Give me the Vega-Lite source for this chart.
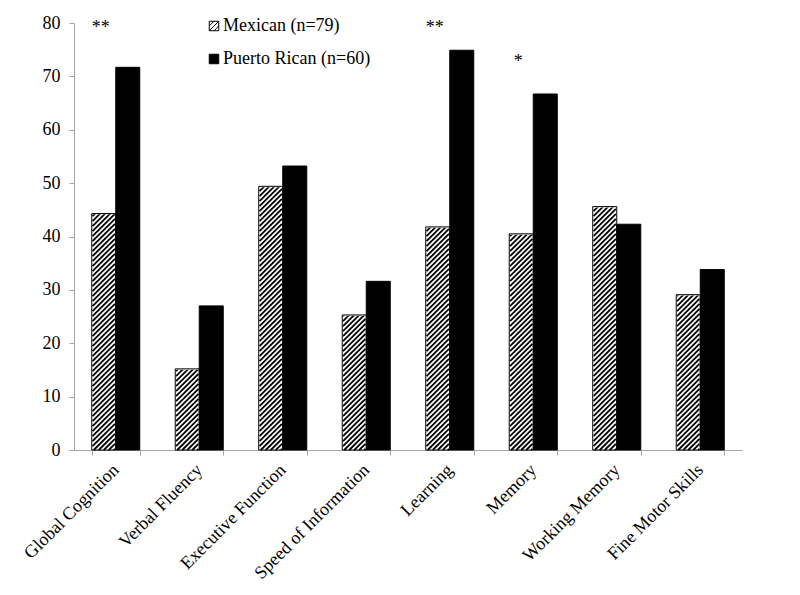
{
  "$schema": "https://vega.github.io/schema/vega-lite/v6.json",
  "width": 668,
  "height": 427,
  "autosize": {"type": "none"},
  "padding": {"left": 74, "top": 23, "right": 58, "bottom": 145},
  "background": "white",
  "config": {
    "font": "Liberation Serif",
    "view": {"stroke": null},
    "axis": {"labelFont": "Liberation Serif", "labelFontSize": 18, "labelColor": "black", "domainColor": "#a6a6a6", "tickColor": "#a6a6a6", "grid": false, "title": null},
    "axisX": {"labelAngle": -45, "labelAlign": "right", "labelBaseline": "middle", "labelPadding": 12, "tickSize": 5, "tickBand": "extent"},
    "axisY": {"tickSize": 5, "labelPadding": 9, "tickCount": 8}
  },
  "datasets": {
    "bars": [
      {"category": "Global Cognition", "group": "Mexican (n=79)", "value": 44.3},
      {"category": "Global Cognition", "group": "Puerto Rican (n=60)", "value": 71.7},
      {"category": "Verbal Fluency", "group": "Mexican (n=79)", "value": 15.2},
      {"category": "Verbal Fluency", "group": "Puerto Rican (n=60)", "value": 27.0},
      {"category": "Executive Function", "group": "Mexican (n=79)", "value": 49.4},
      {"category": "Executive Function", "group": "Puerto Rican (n=60)", "value": 53.2},
      {"category": "Speed of Information", "group": "Mexican (n=79)", "value": 25.3},
      {"category": "Speed of Information", "group": "Puerto Rican (n=60)", "value": 31.6},
      {"category": "Learning", "group": "Mexican (n=79)", "value": 41.8},
      {"category": "Learning", "group": "Puerto Rican (n=60)", "value": 74.9},
      {"category": "Memory", "group": "Mexican (n=79)", "value": 40.5},
      {"category": "Memory", "group": "Puerto Rican (n=60)", "value": 66.7},
      {"category": "Working Memory", "group": "Mexican (n=79)", "value": 45.6},
      {"category": "Working Memory", "group": "Puerto Rican (n=60)", "value": 42.3},
      {"category": "Fine Motor Skills", "group": "Mexican (n=79)", "value": 29.1},
      {"category": "Fine Motor Skills", "group": "Puerto Rican (n=60)", "value": 33.8}
    ],
    "sig": [
      {"category": "Global Cognition", "group": "Mexican (n=79)", "value": 78.2, "mark": "**"},
      {"category": "Learning", "group": "Mexican (n=79)", "value": 78.2, "mark": "**"},
      {"category": "Memory", "group": "Mexican (n=79)", "value": 71.8, "mark": "*"}
    ]
  },
  "encoding": {
    "x": {
      "field": "category", "type": "nominal", "title": null,
      "scale": {"domain": ["Global Cognition", "Verbal Fluency", "Executive Function", "Speed of Information", "Learning", "Memory", "Working Memory", "Fine Motor Skills"], "paddingInner": 0.425, "paddingOuter": 0.2125}
    },
    "xOffset": {"field": "group", "type": "nominal", "scale": {"domain": ["Mexican (n=79)", "Puerto Rican (n=60)"]}}
  },
  "layer": [
    {
      "data": {"name": "bars"},
      "transform": [{"filter": "datum.group === 'Mexican (n=79)'"}],
      "mark": {
        "type": "point",
        "shape": "M10 0L11.2 -1.2M5 0L11.2 -6.2M0 0L11.2 -11.2M-5 0L11.2 -16.2M-10 0L11.2 -21.2M-11.2 -3.8L11.2 -26.2M-11.2 -8.8L11.2 -31.2M-11.2 -13.8L11.2 -36.2M-11.2 -18.8L11.2 -41.2M-11.2 -23.8L11.2 -46.2M-11.2 -28.8L11.2 -51.2M-11.2 -33.8L11.2 -56.2M-11.2 -38.8L11.2 -61.2M-11.2 -43.8L11.2 -66.2M-11.2 -48.8L11.2 -71.2M-11.2 -53.8L11.2 -76.2M-11.2 -58.8L11.2 -81.2M-11.2 -63.8L11.2 -86.2M-11.2 -68.8L11.2 -91.2M-11.2 -73.8L11.2 -96.2M-11.2 -78.8L11.2 -101.2M-11.2 -83.8L11.2 -106.2M-11.2 -88.8L11.2 -111.2M-11.2 -93.8L11.2 -116.2M-11.2 -98.8L11.2 -121.2M-11.2 -103.8L11.2 -126.2M-11.2 -108.8L11.2 -131.2M-11.2 -113.8L11.2 -136.2M-11.2 -118.8L11.2 -141.2M-11.2 -123.8L11.2 -146.2M-11.2 -128.8L11.2 -151.2M-11.2 -133.8L11.2 -156.2M-11.2 -138.8L11.2 -161.2M-11.2 -143.8L11.2 -166.2M-11.2 -148.8L11.2 -171.2M-11.2 -153.8L11.2 -176.2M-11.2 -158.8L11.2 -181.2M-11.2 -163.8L11.2 -186.2M-11.2 -168.8L11.2 -191.2M-11.2 -173.8L11.2 -196.2M-11.2 -178.8L11.2 -201.2M-11.2 -183.8L11.2 -206.2M-11.2 -188.8L11.2 -211.2M-11.2 -193.8L11.2 -216.2M-11.2 -198.8L11.2 -221.2M-11.2 -203.8L11.2 -226.2M-11.2 -208.8L11.2 -231.2M-11.2 -213.8L11.2 -236.2M-11.2 -218.8L11.2 -241.2M-11.2 -223.8L11.2 -246.2M-11.2 -228.8L11.2 -251.2M-11.2 -233.8L11.2 -256.2M-11.2 -238.8L11.2 -261.2M-11.2 -243.8L11.2 -266.2M-11.2 -248.8L11.2 -271.2M-11.2 -253.8L11.2 -276.2M-11.2 -258.8L11.2 -281.2M-11.2 -263.8L11.2 -286.2M-11.2 -268.8L11.2 -291.2M-11.2 -273.8L11.2 -296.2",
        "size": 4,
        "filled": false,
        "stroke": "black",
        "strokeWidth": 1.8,
        "opacity": 1
      },
      "encoding": {
        "y": {"datum": 0, "type": "quantitative", "title": null, "scale": {"domain": [0, 80], "nice": false}}
      }
    },
    {
      "data": {"name": "bars"},
      "transform": [{"filter": "datum.group === 'Mexican (n=79)'"}],
      "mark": {"type": "bar", "fill": "white", "stroke": "white", "strokeWidth": 1.6},
      "encoding": {
        "y": {"field": "value", "type": "quantitative", "title": null, "scale": {"domain": [0, 80], "nice": false}},
        "y2": {"datum": 80}
      }
    },
    {
      "data": {"name": "bars"},
      "mark": {"type": "bar", "stroke": "black", "strokeWidth": 1},
      "encoding": {
        "y": {"field": "value", "type": "quantitative", "title": null, "scale": {"domain": [0, 80], "nice": false}},
        "fill": {
          "field": "group", "type": "nominal",
          "scale": {"domain": ["Mexican (n=79)", "Puerto Rican (n=60)"], "range": ["transparent", "black"]},
          "legend": {
            "orient": "none", "legendX": 131, "legendY": -6, "title": null, "direction": "vertical",
            "labelFont": "Liberation Serif", "labelFontSize": 18, "labelColor": "black", "labelLimit": 0, "labelOffset": 0,
            "symbolSize": 90, "symbolStrokeColor": "black", "symbolStrokeWidth": 1, "rowPadding": 15, "padding": 0,
            "encode": {"symbols": {"update": {"shape": {"signal": "datum.value === 'Mexican (n=79)' ? 'M-1 -1H1V1H-1ZM-1 0L0 -1M-1 1L1 -1M0 1L1 0' : 'square'"}}}}
          }
        }
      }
    },
    {
      "data": {"name": "sig"},
      "mark": {"type": "text", "fontSize": 18, "baseline": "alphabetic", "align": "center", "dx": -3, "color": "black"},
      "encoding": {
        "y": {"field": "value", "type": "quantitative", "title": null, "scale": {"domain": [0, 80], "nice": false}},
        "text": {"field": "mark"}
      }
    }
  ]
}
